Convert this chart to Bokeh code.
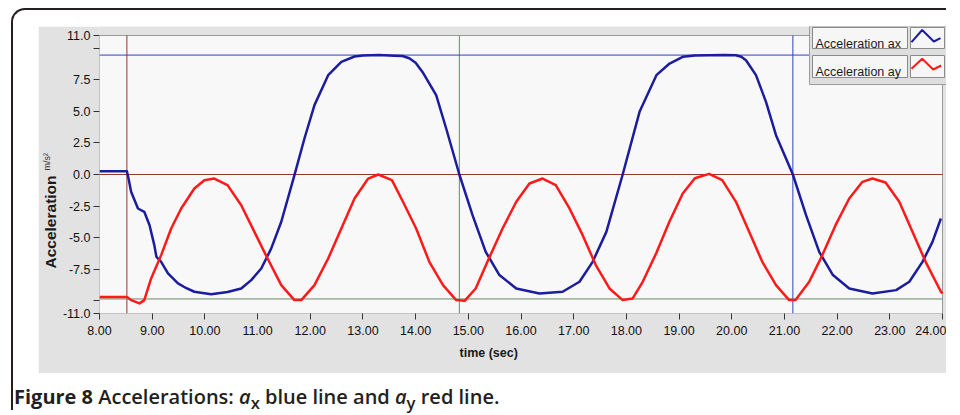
import math
from bokeh.plotting import figure
from bokeh.models import (Label, BoxAnnotation, PolyAnnotation, FixedTicker, Div,
                          Range1d, Title)
from bokeh.layouts import column
from bokeh.embed import file_html
from bokeh.resources import INLINE

# ---------------- data ----------------
series_names = ["Acceleration ax", "Acceleration ay"]

ax_time = [8.00, 8.52, 8.55, 8.60, 8.73, 8.85, 8.95, 9.04, 9.08, 9.17, 9.30, 9.49,
           9.65, 9.80, 10.12, 10.43, 10.69, 10.88, 11.07, 11.26, 11.45, 11.70,
           11.89, 12.08, 12.34, 12.59, 12.84, 13.00, 13.30, 13.60, 13.75, 13.88,
           14.00, 14.13, 14.39, 14.58, 14.83, 15.08, 15.33, 15.59, 15.91, 16.35,
           16.79, 17.11, 17.36, 17.62, 17.93, 18.25, 18.57, 18.82, 19.07, 19.30,
           19.57, 19.85, 20.08, 20.18, 20.27, 20.46, 20.65, 20.84, 21.16, 21.41,
           21.66, 21.92, 22.23, 22.67, 23.12, 23.37, 23.62, 23.81, 23.97]
ax_value = [0.26, 0.26, -0.30, -1.37, -2.69, -2.95, -4.01, -5.59, -6.51, -6.91, -7.83,
            -8.62, -9.00, -9.28, -9.47, -9.30, -9.02, -8.36, -7.44, -5.85, -3.74,
            -0.05, 2.85, 5.49, 7.86, 8.91, 9.34, 9.42, 9.45, 9.40, 9.38, 9.20,
            8.85, 8.12, 6.28, 3.64, 0.00, -3.22, -6.12, -7.96, -9.02, -9.41,
            -9.28, -8.49, -6.91, -4.54, 0.00, 4.96, 7.86, 8.78, 9.31, 9.42,
            9.44, 9.46, 9.44, 9.32, 9.04, 7.86, 5.75, 3.11, 0.00, -3.22,
            -6.12, -7.96, -9.02, -9.41, -9.15, -8.49, -6.91, -5.33, -3.48]

ay_time = [8.00, 8.52, 8.60, 8.76, 8.85, 8.98, 9.17, 9.36, 9.55, 9.80, 9.99, 10.18,
           10.43, 10.69, 10.94, 11.19, 11.45, 11.70, 11.83, 12.08, 12.34, 12.59,
           12.84, 13.10, 13.29, 13.55, 13.76, 14.01, 14.26, 14.52, 14.77, 14.93,
           15.14, 15.39, 15.65, 15.91, 16.16, 16.41, 16.66, 16.92, 17.17, 17.42,
           17.68, 17.93, 18.12, 18.31, 18.57, 18.82, 19.07, 19.30, 19.57, 19.82,
           20.08, 20.33, 20.58, 20.84, 21.09, 21.21, 21.47, 21.72, 21.97, 22.23,
           22.48, 22.67, 22.92, 23.18, 23.43, 23.68, 23.97, 24.00]
ay_value = [-9.70, -9.70, -9.94, -10.20, -9.94, -8.23, -6.38, -4.27, -2.69, -1.11,
            -0.45, -0.32, -0.84, -2.43, -4.54, -6.65, -8.75, -9.94, -9.94, -8.75,
            -6.65, -4.27, -1.90, -0.32, 0.00, -0.45, -2.16, -4.27, -6.91, -8.75,
            -9.94, -10.00, -9.02, -6.65, -4.27, -2.16, -0.71, -0.32, -0.84, -2.69,
            -4.80, -7.17, -9.02, -9.94, -9.81, -8.49, -6.20, -3.70, -1.50, -0.30,
            0.05, -0.45, -2.16, -4.54, -6.91, -8.75, -9.94, -9.94, -8.49, -6.38,
            -4.01, -1.90, -0.58, -0.32, -0.63, -2.16, -4.54, -6.91, -9.28, -9.40]

cursor_times = [8.52, 14.83, 21.16]
cursor_levels = [0.0, -9.85, 9.45]

x_min, x_max = 8, 24
y_min, y_max = -11, 11
x_ticks = [8, 9, 10, 11, 12, 13, 14, 15, 16, 17, 18, 19, 20, 21, 22, 23, 24]
x_tick_labels = ["8.00", "9.00", "10.00", "11.00", "12.00", "13.00", "14.00", "15.00",
                 "16.00", "17.00", "18.00", "19.00", "20.00", "21.00", "22.00",
                 "23.00", "24.00"]
y_ticks = [-11, -10, -7.5, -5, -2.5, 0, 2.5, 5, 7.5, 10, 11]
y_tick_labels = ["-11.0", "", "-7.5", "-5.0", "-2.5", "0.0", "2.5", "5.0", "7.5", "",
                 "11.0"]
x_title = "time (sec)"
y_title = "Acceleration"
y_unit = "m/s²"

# ---------------- styles / geometry ----------------
FONT = "Liberation Sans"
BLUE = "#1c1c9e"
RED = "#ff1a1a"
cursor_colors = ["#8e3b2b", "#6a8a68", "#3040c8"]
PANEL = "#e2e2e2"
PLOTBG = "#f8f8f8"

FIG_W, FIG_H = 908, 347
BORDER_L = 61          # gray panel edge -> plot area left
PLOT_W, PLOT_H = 843, 278
EXTRA_R, EXTRA_T = 4, 9  # frame extends past the plot area (legend lives there)
BORDER_B = FIG_H - PLOT_H - EXTRA_T
FL, FB = 99, 313       # plot area left / bottom on the page (legend decorations)

x_end = x_max + EXTRA_R * (x_max - x_min) / PLOT_W
y_end = y_max + EXTRA_T * (y_max - y_min) / PLOT_H


def sx(px):
    return px - FL


def sy(py):
    return FB - py


p = figure(width=FIG_W, height=FIG_H, x_range=Range1d(x_min, x_end),
           y_range=Range1d(y_min, y_end),
           output_backend="svg", toolbar_location=None,
           min_border_left=BORDER_L, min_border_right=0, min_border_top=0,
           min_border_bottom=BORDER_B,
           background_fill_color=PANEL, border_fill_color=PANEL)
p.grid.visible = False
p.outline_line_color = None
p.margin = (16, 0, 0, 25)

# plot area (white) with its edge
p.add_layout(BoxAnnotation(left=x_min, right=x_max, bottom=y_min, top=y_max,
                           fill_color=PLOTBG, fill_alpha=1, line_color="#9a9a9a",
                           line_alpha=1, line_width=1, level="underlay"))

# cursors
n = len(cursor_times)
p.segment(x0=cursor_times, x1=cursor_times, y0=[y_min] * n, y1=[y_max] * n,
          line_color=cursor_colors, line_width=1)
p.segment(x0=[x_min] * n, x1=[x_max] * n, y0=cursor_levels, y1=cursor_levels,
          line_color=cursor_colors, line_width=1)

p.line(ax_time, ax_value, line_color=BLUE, line_width=2.5, line_join="round")
p.line(ay_time, ay_value, line_color=RED, line_width=2.5, line_join="round")

# axes
p.xaxis.ticker = FixedTicker(ticks=x_ticks)
p.xaxis.major_label_overrides = dict(zip(x_ticks, x_tick_labels))
p.yaxis.ticker = FixedTicker(ticks=y_ticks)
p.yaxis.major_label_overrides = dict(zip(y_ticks, y_tick_labels))
for ax in (p.xaxis, p.yaxis):
    ax.axis_line_color = None
    ax.major_tick_out = 6
    ax.major_tick_in = 0
    ax.minor_tick_out = 0
    ax.minor_tick_in = 0
    ax.major_tick_line_color = "#333333"
    ax.major_label_text_font = FONT
    ax.major_label_text_font_size = "12.5px"
    ax.major_label_text_color = "#111111"
    ax.major_label_standoff = 3
p.xaxis.major_label_standoff = 6

# axis titles
p.add_layout(Title(text=x_title, align="left", offset=360, standoff=12,
                   text_font=FONT, text_font_size="12.5px", text_font_style="bold",
                   text_color="#1a1a1a"), "below")
p.add_layout(Title(text=y_title, align="left", offset=313 - 268, standoff=1,
                   text_font=FONT, text_font_size="15.5px", text_font_style="bold",
                   text_color="#1a1a1a"), "left")
p.add_layout(Title(text=y_unit, align="left", offset=313 - 170, standoff=-25,
                   text_font=FONT, text_font_size="9px", text_font_style="normal",
                   text_color="#333333"), "left")


# legend (label box + line swatch, LabVIEW style)
def box(l, r, t, b, fill, line):
    return BoxAnnotation(left=sx(l), right=sx(r), top=sy(t), bottom=sy(b),
                         left_units="screen", right_units="screen",
                         top_units="screen", bottom_units="screen",
                         fill_color=fill, fill_alpha=1, line_color=line, line_alpha=1,
                         line_width=1, level="overlay")


p.add_layout(box(809, 947, 26, 84, "#dedede", "#9c9c9c"))
rows = [(27, 48, 43.5, BLUE, [(911, 41.7), (921.7, 29.5), (933.3, 41), (940, 37.7)]),
        (55, 77, 71.5, RED, [(911, 68.3), (921.7, 58.3), (932.7, 69), (940.7, 65)])]
for (t, b, base, col, zz), name in zip(rows, series_names):
    p.add_layout(box(812, 907, t, b, "#f6f6f6", "#8a8a8a"))
    p.add_layout(box(910, 944, t, b, "#f6f6f6", "#8a8a8a"))
    p.add_layout(Label(x=sx(815), y=sy(base), x_units="screen", y_units="screen",
                       text=name, text_font=FONT, text_font_size="12.5px",
                       text_color="#1a1a1a", text_align="left",
                       text_baseline="alphabetic", level="overlay"))
    path = zz + zz[-2:0:-1]
    p.add_layout(PolyAnnotation(xs=[sx(a) for a, _ in path], ys=[sy(c) for _, c in path],
                                xs_units="screen", ys_units="screen",
                                fill_alpha=0, line_color=col, line_alpha=1,
                                line_width=2, level="overlay"))

caption = Div(text='<span style="font-weight:700">Figure 8</span> Accelerations: '
                   '<i>a</i><sub>x</sub> blue line and <i>a</i><sub>y</sub> red line.',
              width=700, height=26, margin=(11, 0, 0, 1),
              styles={"font-family": "Open Sans", "font-size": "20px",
                      "font-weight": "600", "color": "#231f20",
                      "white-space": "nowrap", "line-height": "26px"})

root = column(p, caption, margin=(8, 0, 0, 11),
              styles={"border-top": "2px solid #231f20",
                      "border-left": "2px solid #231f20",
                      "border-top-left-radius": "14px"})

open("out.html", "w").write(file_html(root, INLINE))
